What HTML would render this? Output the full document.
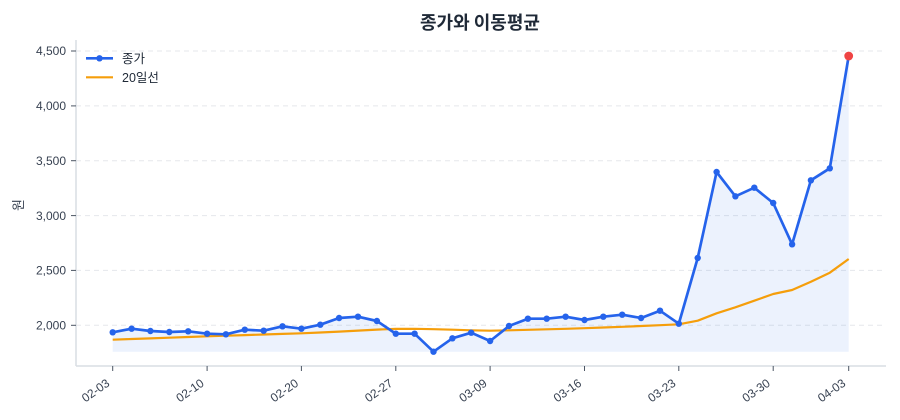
<!DOCTYPE html>
<html>
<head>
<meta charset="utf-8">
<style>
  html, body { margin: 0; padding: 0; background: #ffffff; }
  svg { display: block; }
  text { font-family: "Liberation Sans", "Noto Sans CJK KR", sans-serif; }
</style>
</head>
<body>
<svg width="900" height="420" viewBox="0 0 900 420" xmlns="http://www.w3.org/2000/svg">
  <rect x="0" y="0" width="900" height="420" fill="#ffffff"/>

  <!-- Title -->
  <text x="480" y="29" text-anchor="middle" font-size="18" font-weight="bold" fill="#1f2937" style="font-family:'Noto Sans CJK KR','Liberation Sans',sans-serif;">종가와 이동평균</text>

  <!-- Grid lines -->
  <g stroke="#e5e7eb" stroke-width="1" stroke-dasharray="5,4">
    <line x1="76" y1="51" x2="885" y2="51"/>
    <line x1="76" y1="105.9" x2="885" y2="105.9"/>
    <line x1="76" y1="160.7" x2="885" y2="160.7"/>
    <line x1="76" y1="215.6" x2="885" y2="215.6"/>
    <line x1="76" y1="270.4" x2="885" y2="270.4"/>
    <line x1="76" y1="325.3" x2="885" y2="325.3"/>
  </g>

  <!-- Fill under close -->
  <polygon fill="#2563eb" fill-opacity="0.085" points="
    112.7,351.7
    112.7,332.3 131.6,328.7 150.4,331 169.3,332 188.2,331.3 207.1,333.7 225.9,334.3 244.8,329.7 263.7,330.7 282.5,326.3
    301.4,328.7 320.3,324.7 339.1,318 358,316.7 376.9,321 395.8,333.7 414.6,333.7 433.5,351.7 452.4,338.3 471.2,332.7
    490.1,341 509,326 527.9,318.7 546.7,318.7 565.6,316.7 584.5,320 603.3,316.7 622.2,314.7 641.1,318 660,310.7
    678.8,323.7 697.7,258 716.6,172 735.4,196.3 754.3,187.7 773.2,203 792.1,244.3 810.9,180.3 829.8,168.3 848.7,56
    848.7,351.7"/>

  <!-- Axes spines -->
  <line x1="76" y1="40" x2="76" y2="366" stroke="#d9dde3" stroke-width="1.5"/>
  <line x1="76" y1="366" x2="886" y2="366" stroke="#d9dde3" stroke-width="1.5"/>

  <!-- Y ticks -->
  <g stroke="#4b5563" stroke-width="1">
    <line x1="71" y1="51" x2="76" y2="51"/>
    <line x1="71" y1="105.9" x2="76" y2="105.9"/>
    <line x1="71" y1="160.7" x2="76" y2="160.7"/>
    <line x1="71" y1="215.6" x2="76" y2="215.6"/>
    <line x1="71" y1="270.4" x2="76" y2="270.4"/>
    <line x1="71" y1="325.3" x2="76" y2="325.3"/>
  </g>
  <g font-size="12" fill="#374151" text-anchor="end">
    <text x="66" y="55.2">4,500</text>
    <text x="66" y="110.1">4,000</text>
    <text x="66" y="164.9">3,500</text>
    <text x="66" y="219.8">3,000</text>
    <text x="66" y="274.6">2,500</text>
    <text x="66" y="329.5">2,000</text>
  </g>

  <!-- Y axis label -->
  <text transform="translate(23,205) rotate(-90)" text-anchor="middle" font-size="13" fill="#374151" style="font-family:'Noto Sans CJK KR','Liberation Sans',sans-serif;">원</text>

  <!-- X ticks -->
  <g stroke="#4b5563" stroke-width="1">
    <line x1="112.7" y1="366" x2="112.7" y2="371"/>
    <line x1="207.1" y1="366" x2="207.1" y2="371"/>
    <line x1="301.4" y1="366" x2="301.4" y2="371"/>
    <line x1="395.8" y1="366" x2="395.8" y2="371"/>
    <line x1="490.1" y1="366" x2="490.1" y2="371"/>
    <line x1="584.5" y1="366" x2="584.5" y2="371"/>
    <line x1="678.8" y1="366" x2="678.8" y2="371"/>
    <line x1="773.2" y1="366" x2="773.2" y2="371"/>
    <line x1="848.7" y1="366" x2="848.7" y2="371"/>
  </g>
  <g font-size="12" fill="#374151" text-anchor="end">
    <text transform="translate(110.5,385) rotate(-35)">02-03</text>
    <text transform="translate(204.9,385) rotate(-35)">02-10</text>
    <text transform="translate(299.2,385) rotate(-35)">02-20</text>
    <text transform="translate(393.6,385) rotate(-35)">02-27</text>
    <text transform="translate(487.9,385) rotate(-35)">03-09</text>
    <text transform="translate(582.3,385) rotate(-35)">03-16</text>
    <text transform="translate(676.6,385) rotate(-35)">03-23</text>
    <text transform="translate(771,385) rotate(-35)">03-30</text>
    <text transform="translate(846.5,385) rotate(-35)">04-03</text>
  </g>

  <!-- MA line -->
  <polyline fill="none" stroke="#f59e0b" stroke-width="2.2" stroke-linejoin="round" points="
    112.7,339.7 131.6,339 150.4,338.4 169.3,337.7 188.2,337 207.1,336.3 225.9,335.7 244.8,335.1 263.7,334.5 282.5,333.9
    301.4,333.3 320.3,332.5 339.1,331.6 358,330.6 376.9,329.6 395.8,328.9 414.6,328.8 433.5,329.2 452.4,329.7 471.2,330.3
    490.1,330.7 509,330.3 527.9,329.8 546.7,329.3 565.6,328.8 584.5,328.2 603.3,327.5 622.2,326.8 641.1,326 660,325.2
    678.8,324.3 697.7,320.7 716.6,313.3 735.4,307.3 754.3,300.7 773.2,294 792.1,290 810.9,281.7 829.8,272.7 848.7,259"/>

  <!-- Close line -->
  <polyline fill="none" stroke="#2563eb" stroke-width="2.7" stroke-linejoin="round" points="
    112.7,332.3 131.6,328.7 150.4,331 169.3,332 188.2,331.3 207.1,333.7 225.9,334.3 244.8,329.7 263.7,330.7 282.5,326.3
    301.4,328.7 320.3,324.7 339.1,318 358,316.7 376.9,321 395.8,333.7 414.6,333.7 433.5,351.7 452.4,338.3 471.2,332.7
    490.1,341 509,326 527.9,318.7 546.7,318.7 565.6,316.7 584.5,320 603.3,316.7 622.2,314.7 641.1,318 660,310.7
    678.8,323.7 697.7,258 716.6,172 735.4,196.3 754.3,187.7 773.2,203 792.1,244.3 810.9,180.3 829.8,168.3 848.7,56"/>

  <!-- Markers -->
  <g fill="#2563eb">
    <circle cx="112.7" cy="332.3" r="3.2"/><circle cx="131.6" cy="328.7" r="3.2"/><circle cx="150.4" cy="331" r="3.2"/>
    <circle cx="169.3" cy="332" r="3.2"/><circle cx="188.2" cy="331.3" r="3.2"/><circle cx="207.1" cy="333.7" r="3.2"/>
    <circle cx="225.9" cy="334.3" r="3.2"/><circle cx="244.8" cy="329.7" r="3.2"/><circle cx="263.7" cy="330.7" r="3.2"/>
    <circle cx="282.5" cy="326.3" r="3.2"/><circle cx="301.4" cy="328.7" r="3.2"/><circle cx="320.3" cy="324.7" r="3.2"/>
    <circle cx="339.1" cy="318" r="3.2"/><circle cx="358" cy="316.7" r="3.2"/><circle cx="376.9" cy="321" r="3.2"/>
    <circle cx="395.8" cy="333.7" r="3.2"/><circle cx="414.6" cy="333.7" r="3.2"/><circle cx="433.5" cy="351.7" r="3.2"/>
    <circle cx="452.4" cy="338.3" r="3.2"/><circle cx="471.2" cy="332.7" r="3.2"/><circle cx="490.1" cy="341" r="3.2"/>
    <circle cx="509" cy="326" r="3.2"/><circle cx="527.9" cy="318.7" r="3.2"/><circle cx="546.7" cy="318.7" r="3.2"/>
    <circle cx="565.6" cy="316.7" r="3.2"/><circle cx="584.5" cy="320" r="3.2"/><circle cx="603.3" cy="316.7" r="3.2"/>
    <circle cx="622.2" cy="314.7" r="3.2"/><circle cx="641.1" cy="318" r="3.2"/><circle cx="660" cy="310.7" r="3.2"/>
    <circle cx="678.8" cy="323.7" r="3.2"/><circle cx="697.7" cy="258" r="3.2"/><circle cx="716.6" cy="172" r="3.2"/>
    <circle cx="735.4" cy="196.3" r="3.2"/><circle cx="754.3" cy="187.7" r="3.2"/><circle cx="773.2" cy="203" r="3.2"/>
    <circle cx="792.1" cy="244.3" r="3.2"/><circle cx="810.9" cy="180.3" r="3.2"/><circle cx="829.8" cy="168.3" r="3.2"/>
  </g>
  <circle cx="848.7" cy="56" r="4.4" fill="#ef4444"/>

  <!-- Legend -->
  <line x1="86" y1="58.3" x2="113" y2="58.3" stroke="#2563eb" stroke-width="2.7"/>
  <circle cx="99.5" cy="58.3" r="3.2" fill="#2563eb"/>
  <text x="122" y="62.8" font-size="12.5" fill="#1f2937" style="font-family:'Noto Sans CJK KR','Liberation Sans',sans-serif;">종가</text>
  <line x1="86" y1="77.3" x2="113" y2="77.3" stroke="#f59e0b" stroke-width="2.2"/>
  <text x="122" y="81.8" font-size="12.5" fill="#1f2937" style="font-family:'Liberation Sans','Noto Sans CJK KR',sans-serif;">20일선</text>
</svg>
</body>
</html>
